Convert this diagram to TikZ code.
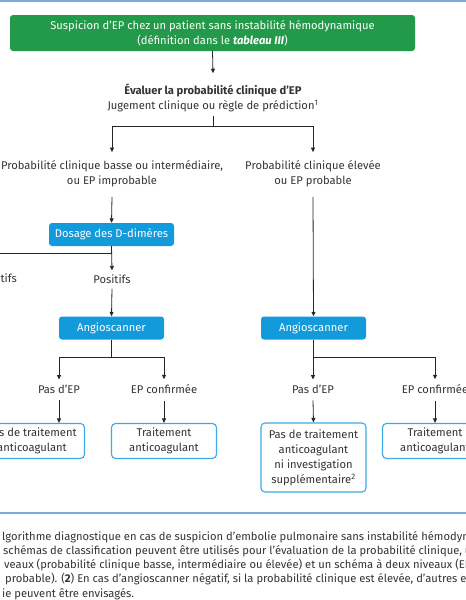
\documentclass[tikz,border=0pt]{standalone}
\usepackage{fontspec}
\setmainfont{Fira Sans}
\usetikzlibrary{arrows.meta}
\definecolor{greenc}{HTML}{23994A}
\definecolor{bluec}{HTML}{139ADB}
\definecolor{lbluec}{HTML}{3AAAE6}
\definecolor{rulec}{HTML}{7EA8DC}
\definecolor{txtc}{HTML}{333333}
\definecolor{linec}{HTML}{262626}
\tikzset{
  base/.style={font=\fontsize{11.2}{15}\selectfont, align=center, inner sep=0pt},
  txt/.style={base, text=txtc},
  greenbox/.style={base, fill=greenc, text=white, rounded corners=3pt, minimum width=405, minimum height=36},
  bluebox/.style={base, fill=bluec, text=white, rounded corners=3pt, minimum height=23},
  outbox/.style={base, draw=lbluec, line width=1.1pt, fill=white, text=txtc, rounded corners=4pt, minimum width=105},
  conn/.style={draw=linec, line width=0.8pt},
  arr/.style={conn, -{Triangle[length=4.5pt,width=4pt]}},
  rulel/.style={draw=rulec, line width=1.3pt},
  captxt/.style={font=\fontsize{11.2}{14}\selectfont, text=txtc, inner sep=0pt, anchor=base west}
}
\begin{document}
\begin{tikzpicture}[x=1pt, y=-1pt]
\useasboundingbox (0,0) rectangle (466,600);
\clip (0,0) rectangle (466,600);
\coordinate (tl) at (0,1);
\coordinate (tr) at (466,1);
\draw[rulel] (tl) -- (tr);
\node[greenbox] (start) at (212.5,33) {Suspicion d'EP chez un patient sans instabilité hémodynamique\\(définition dans le \textbf{\textit{tableau III}})};
\node[txt] (eval) at (213,97.5) {\textbf{Évaluer la probabilité clinique d'EP}\\Jugement clinique ou règle de prédiction\textsuperscript{1}};
\coordinate (split) at (213,126);
\node[txt] (lprob) at (112,173.5) {Probabilité clinique basse ou intermédiaire,\\ou EP improbable};
\node[txt] (rprob) at (313,173.5) {Probabilité clinique élevée\\ou EP probable};
\node[bluebox, minimum width=125] (dd) at (111.5,234.5) {Dosage des D-dimères};
\node[txt] (neg) at (-4,279) {Négatifs};
\node[txt] (pos) at (112,279) {Positifs};
\node[bluebox, minimum width=105] (angl) at (111.5,328) {Angioscanner};
\node[bluebox, minimum width=105] (angr) at (313.5,328) {Angioscanner};
\node[txt] (nol) at (59,389) {Pas d'EP};
\node[txt] (yesl) at (164,389) {EP confirmée};
\node[txt] (nor) at (313,389) {Pas d'EP};
\node[txt] (yesr) at (435,389) {EP confirmée};
\node[outbox, minimum height=35] (b1) at (32,441) {Pas de traitement\\anticoagulant};
\node[outbox, minimum height=35] (b2) at (164,441) {Traitement\\anticoagulant};
\node[outbox, minimum height=69] (b3) at (313.5,457.5) {Pas de traitement\\anticoagulant\\ni investigation\\supplémentaire\textsuperscript{2}};
\node[outbox, minimum height=35] (b4) at (435,441) {Traitement\\anticoagulant};
% connectors
\draw[arr] (start.south) -- ([yshift=10pt]eval.north);
\draw[conn] ([yshift=-4pt]eval.south) -- (split);
\draw[arr] (split) -| ([yshift=8pt]lprob.north);
\draw[arr] (split) -| ([yshift=8pt]rprob.north);
\draw[arr] ([yshift=-10pt]lprob.south) -- (dd.north);
\draw[arr] (dd.south) -- ++(0,7) -| ([yshift=4pt]neg.north);
\draw[arr] (dd.south) -- ([yshift=4pt]pos.north);
\draw[arr] ([yshift=-5pt]pos.south) -- (angl.north);
\draw[arr] ([yshift=-10pt]rprob.south) -- (angr.north);
\draw[arr] (angl.south) -- ++(0,18) -| ([yshift=5pt]nol.north);
\draw[arr] (angl.south) -- ++(0,18) -| ([yshift=5pt]yesl.north);
\draw[arr] (angr.south) -- ++(0,18) -| ([yshift=5pt]nor.north);
\draw[arr] (angr.south) -- ++(0,18) -| ([yshift=5pt]yesr.north);
\draw[arr] ([yshift=-7pt]nol.south) -- (nol.south |- b1.north);
\draw[arr] ([yshift=-7pt]yesl.south) -- (b2.north);
\draw[arr] ([yshift=-7pt]nor.south) -- (b3.north);
\draw[arr] ([yshift=-7pt]yesr.south) -- (b4.north);
\coordinate (bl) at (0,513);
\coordinate (br) at (466,513);
\draw[rulel] (bl) -- (br);
\node[captxt] (c1) at (2,540) {lgorithme diagnostique en cas de suspicion d'embolie pulmonaire sans instabilité hémodynamique.};
\node[captxt] (c2) at (3,554.3) {schémas de classification peuvent être utilisés pour l'évaluation de la probabilité clinique, un schéma};
\node[captxt] (c3) at (4,568.6) {veaux (probabilité clinique basse, intermédiaire ou élevée) et un schéma à deux niveaux (EP improbable};
\node[captxt] (c4) at (5,582.9) {probable). (\textbf{2}) En cas d'angioscanner négatif, si la probabilité clinique est élevée, d'autres examens};
\node[captxt] (c5) at (2,597.2) {ie peuvent être envisagés.};
\end{tikzpicture}
\end{document}
